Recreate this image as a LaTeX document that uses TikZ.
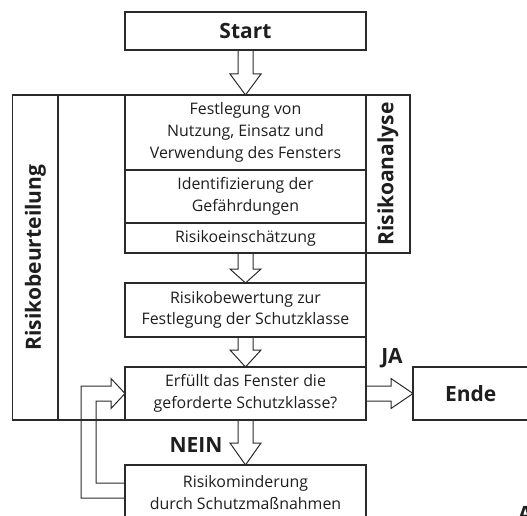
\documentclass[tikz,border=0pt]{standalone}
\usepackage{fontspec}
\setmainfont{Open Sans}
\usetikzlibrary{calc}
\definecolor{ink}{HTML}{1E1E1E}
\definecolor{lin}{HTML}{2A2A2A}
\newcommand\bodyf{\fontsize{15.9}{21.7}\selectfont}
\newcommand\labf{\fontsize{21}{24}\selectfont\bfseries}
\newcommand\downblk[3]{%
  \draw[blk] let \p1=(#1.south), \p2=(#2.north) in
   (\x1-7.5pt,\y1) -- (\x1-7.5pt,\y2+#3pt) -- (\x1-15.5pt,\y2+#3pt) -- (\x1,\y2)
   -- (\x1+15.5pt,\y2+#3pt) -- (\x1+7.5pt,\y2+#3pt) -- (\x1+7.5pt,\y1);}
\tikzset{
  box/.style={draw=lin, line width=1.2pt, inner sep=0pt, outer sep=0pt,
    minimum width=241pt, align=center, text=ink, font=\bodyf},
  blk/.style={draw=lin, line width=1pt, line join=miter},
  frm/.style={draw=lin, line width=1.1pt, inner sep=0pt, outer sep=0pt},
  lab/.style={text=ink, font=\labf, inner sep=0pt},
}
\begin{document}
\begin{tikzpicture}[x=1pt,y=-1pt]
\useasboundingbox (0,0) rectangle (527,516);
% frame Risikobeurteilung
\node[frm, minimum width=353.3pt, minimum height=325pt] (frame) at (189.35,257.5) {};
\node[frm, minimum width=45.3pt, minimum height=325pt] (beurt) at (35.35,257.5)
   {\rotatebox{90}{\labf\color{ink}Risikobeurteilung}};
% boxes
\node[box, minimum height=38pt, font=\labf] (start) at (245.5,31) {Start};
\node[box, minimum height=75pt] (fest) at (245.5,132.5)
   {Festlegung von\\Nutzung, Einsatz und\\Verwendung des Fensters};
\node[box, minimum height=53pt] (ident) at (245.5,196.5)
   {Identifizierung der\\Gefährdungen};
\node[box, minimum height=30pt] (ein) at (245.5,238) {Risikoeinschätzung};
\node[box, minimum width=44pt, minimum height=158pt] (anal) at (388,174)
   {\rotatebox{90}{\labf\color{ink}Risikoanalyse}};
\node[box, minimum height=54pt] (bew) at (245.5,310)
   {Risikobewertung zur\\Festlegung der Schutzklasse};
\node[box, minimum height=53pt] (erf) at (245.5,393.5)
   {Erfüllt das Fenster die\\geforderte Schutzklasse?};
\node[box, minimum width=115.5pt, minimum height=53pt, font=\labf] (ende) at (470.75,393.5) {Ende};
\node[box, minimum height=55pt] (mind) at (245.5,492.5)
   {Risikominderung\\durch Schutzmaßnahmen};
% labels
\node[lab] (ja) at (392,358) {JA};
\node[lab] (nein) at (196,445) {NEIN};
\node[lab, anchor=base west] (partA) at (518,521) {A};
% block arrows
\downblk{start}{fest}{21}
\downblk{ein}{bew}{14}
\downblk{bew}{erf}{17}
\downblk{erf}{mind}{22}
\draw[blk] let \p1=(erf.east), \p2=(ende.west) in
  (\x1,\y1+7.5pt) -- (\x2-22pt,\y1+7.5pt) -- (\x2-22pt,\y1+15pt) -- (\x2,\y1)
  -- (\x2-22pt,\y1-15pt) -- (\x2-22pt,\y1-7.5pt) -- (\x1,\y1-7.5pt);
\draw[blk] let \p1=(mind.west), \p2=(erf.west) in
  (\x1,\y1-5.5pt) -- (\x2-44pt,\y1-5.5pt) -- (\x2-44pt,\y2+7.5pt) -- (\x2-14pt,\y2+7.5pt)
  -- (\x2-14pt,\y2+15pt) -- (\x2,\y2) -- (\x2-14pt,\y2-15pt) -- (\x2-14pt,\y2-7.5pt)
  -- (\x2-29pt,\y2-7.5pt) -- (\x2-29pt,\y1+9.5pt) -- (\x1,\y1+9.5pt);
\end{tikzpicture}
\end{document}
